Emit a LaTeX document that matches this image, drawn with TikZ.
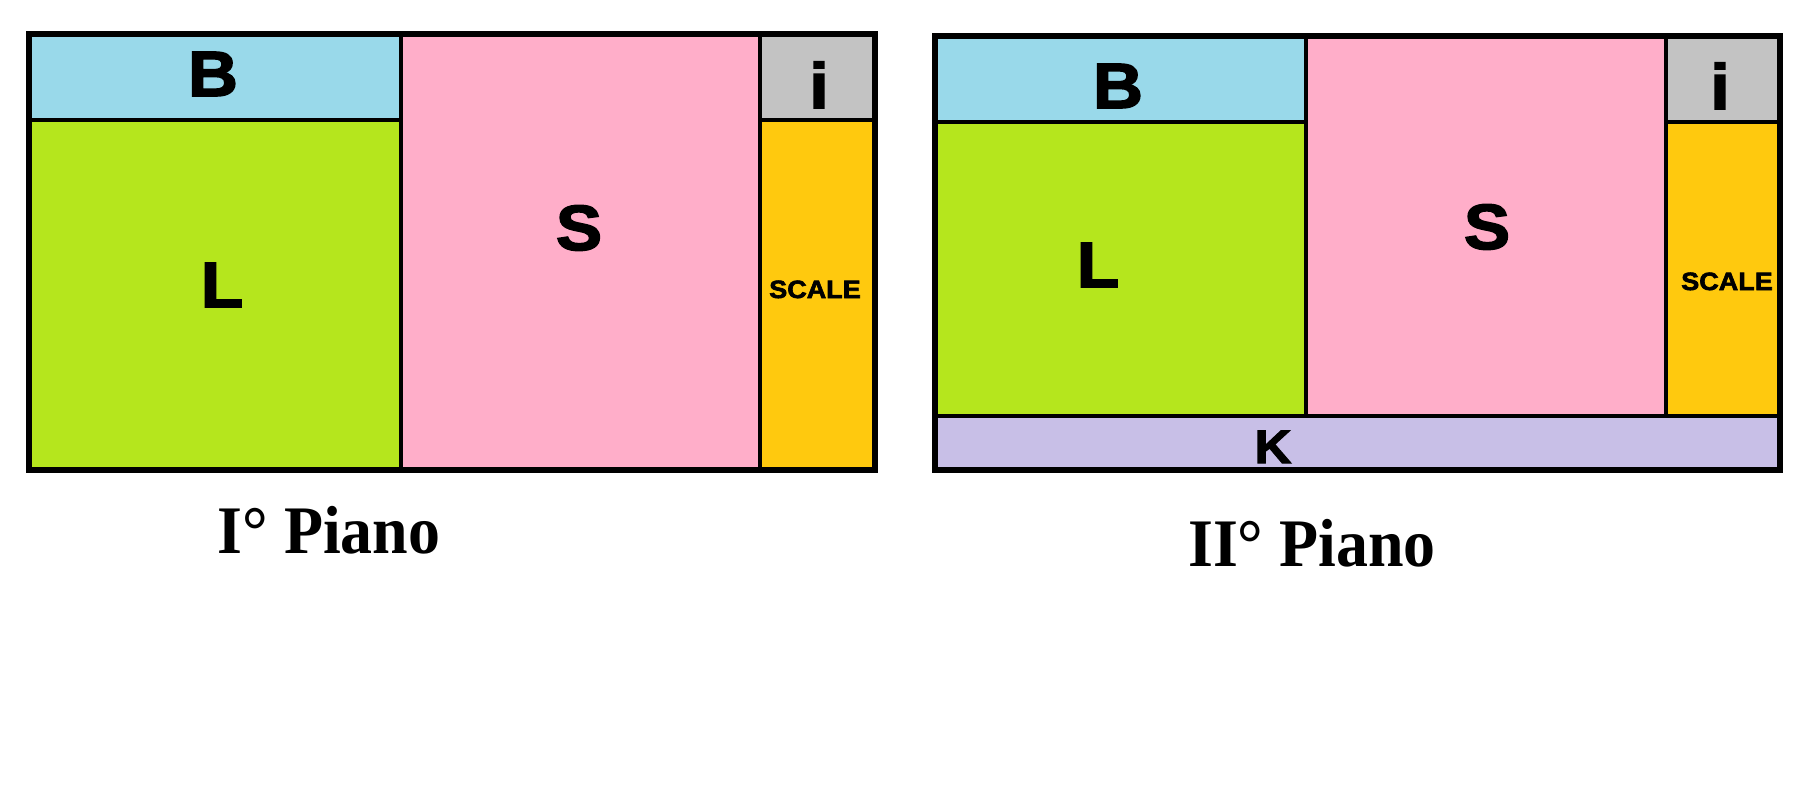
\documentclass[tikz,border=0pt]{standalone}
\usepackage{fontspec}
\setmainfont{Liberation Serif}[BoldFeatures={FakeStretch=0.94}]
\newfontfamily\lblfont{Liberation Sans}[BoldFeatures={FakeBold=2.5,FakeStretch=1.08}]
\definecolor{cB}{HTML}{99D9EA}
\definecolor{cL}{HTML}{B5E61D}
\definecolor{cS}{HTML}{FFAEC9}
\definecolor{cI}{HTML}{C3C3C3}
\definecolor{cSc}{HTML}{FFC90E}
\definecolor{cK}{HTML}{C8BFE7}
\begin{document}
\begin{tikzpicture}[x=1pt,y=-1pt,
  frame/.style={line width=6pt,line join=miter},
  divider/.style={line width=4pt},
  big/.style={anchor=base,inner sep=0pt,font=\lblfont\bfseries\fontsize{64}{64}\selectfont},
  small/.style={anchor=base,inner sep=0pt,font=\lblfont\bfseries\fontsize{25}{25}\selectfont},
  title/.style={anchor=base,inner sep=0pt,font=\bfseries\fontsize{68}{68}\selectfont}]
\useasboundingbox (0,0) rectangle (1800,800);
\fill[white] (0,0) rectangle (1800,800);
% ---------- I piano ----------
\fill[cB] (29,34) rectangle (401,120);
\fill[cL] (29,120) rectangle (401,470);
\fill[cS] (401,34) rectangle (760,470);
\fill[cI] (760,34) rectangle (875,120);
\fill[cSc] (760,120) rectangle (875,470);
\draw[divider] (401,34) -- (401,470) (760,34) -- (760,470)
  (29,120) -- (401,120) (760,120) -- (875,120);
\draw[frame] (29,34) rectangle (875,470);
\node[big] (b1) at (213,96) {B};
\node[big] (l1) at (222,307) {L};
\node[big] (s1) at (579,250) {S};
\node[big] (i1) at (819,108) {i};
\node[small] (sc1) at (815,298) {SCALE};
\node[title] (t1) at (329,553) {I° Piano};
% ---------- II piano ----------
\fill[cB] (935,36) rectangle (1306,122);
\fill[cL] (935,122) rectangle (1306,416);
\fill[cS] (1306,36) rectangle (1666,416);
\fill[cI] (1666,36) rectangle (1780,122);
\fill[cSc] (1666,122) rectangle (1780,416);
\fill[cK] (935,416) rectangle (1780,470);
\draw[divider] (1306,36) -- (1306,416) (1666,36) -- (1666,416)
  (935,122) -- (1306,122) (1666,122) -- (1780,122) (935,416) -- (1780,416);
\draw[frame] (935,36) rectangle (1780,470);
\node[big] (b2) at (1118,108) {B};
\node[big] (l2) at (1098,287) {L};
\node[big] (s2) at (1487,249) {S};
\node[big] (i2) at (1720,109) {i};
\node[small] (sc2) at (1727,290) {SCALE};
\node[big,font=\lblfont\bfseries\fontsize{47}{47}\selectfont] (k2) at (1273,463) {K};
\node[title] (t2) at (1312,566) {II° Piano};
\end{tikzpicture}
\end{document}
